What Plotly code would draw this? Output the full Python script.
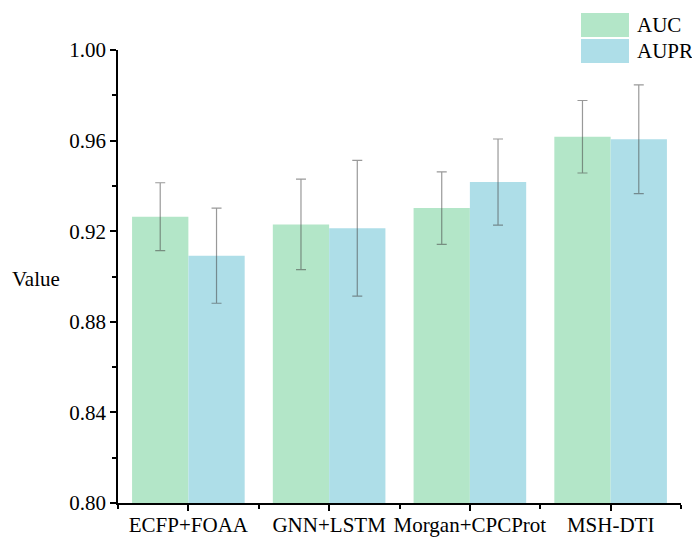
import plotly.graph_objects as go

categories = ["ECFP+FOAA", "GNN+LSTM", "Morgan+CPCProt", "MSH-DTI"]
auc = [0.9264, 0.9230, 0.9302, 0.9617]
auc_err = [0.015, 0.020, 0.016, 0.016]
aupr = [0.9092, 0.9213, 0.9417, 0.9606]
aupr_err = [0.021, 0.030, 0.019, 0.024]
yticks = [0.80, 0.84, 0.88, 0.92, 0.96, 1.00]

auc_color = "#b3e6c8"
aupr_color = "#aedee8"
err_color = "rgba(70,70,70,0.55)"
font = "Liberation Serif, Times New Roman, serif"

xpos = list(range(len(categories)))

fig = go.Figure()
fig.add_trace(go.Bar(x=xpos, y=auc, name="AUC", marker=dict(color=auc_color, line=dict(width=0)),
                     error_y=dict(type="data", array=auc_err, color=err_color, thickness=1.2, width=5)))
fig.add_trace(go.Bar(x=xpos, y=aupr, name="AUPR", marker=dict(color=aupr_color, line=dict(width=0)),
                     error_y=dict(type="data", array=aupr_err, color=err_color, thickness=1.2, width=5)))

fig.update_layout(
    width=692, height=538,
    margin=dict(l=118, r=11, t=50, b=35),
    paper_bgcolor="white", plot_bgcolor="white",
    barmode="group", bargap=0.2, bargroupgap=0,
    showlegend=False,
    font=dict(family=font, size=21, color="black"),
    xaxis=dict(range=[-0.5, 3.5], tickmode="array", tickvals=xpos, ticktext=categories,
               automargin=False, ticklabelstandoff=-4,
               showline=True, linecolor="black", linewidth=1.5, ticks="outside", ticklen=6,
               tickwidth=1.5, tickcolor="black", showgrid=False, zeroline=False,
               minor=dict(tickmode="array", tickvals=[-0.5, 0.5, 1.5, 2.5, 3.5], ticks="outside",
                          ticklen=4, tickwidth=1.5, tickcolor="black"),
               tickfont=dict(size=21, family=font)),
    yaxis=dict(range=[0.80, 1.00], tickmode="array", tickvals=yticks,
               ticktext=[f"{v:.2f}" for v in yticks],
               automargin=False,
               showline=True, linecolor="black", linewidth=1.5, ticks="outside", ticklen=6,
               tickwidth=1.5, tickcolor="black", showgrid=False, zeroline=False,
               minor=dict(tickmode="array", tickvals=[0.82, 0.86, 0.90, 0.94, 0.98], ticks="outside",
                          ticklen=4, tickwidth=1.5, tickcolor="black"),
               tickfont=dict(size=21, family=font)),
)

fig.add_annotation(text="Value", xref="paper", yref="paper", x=-0.1456, y=0.495,
                   xanchor="center", yanchor="middle", showarrow=False,
                   font=dict(size=21, family=font))

# legend
legend_items = [("AUC", auc_color, 1.0817, 1.0287), ("AUPR", aupr_color, 1.0243, 0.9713)]
for name, col, y1, y0 in legend_items:
    fig.add_shape(type="rect", xref="paper", yref="paper", x0=0.8224, x1=0.9076, y0=y0, y1=y1,
                  fillcolor=col, line=dict(width=0))
    fig.add_annotation(text=name, xref="paper", yref="paper", x=0.918, y=(y0 + y1) / 2,
                       xanchor="left", yanchor="middle", showarrow=False,
                       font=dict(size=21, family=font))

fig.write_html("out.html")
